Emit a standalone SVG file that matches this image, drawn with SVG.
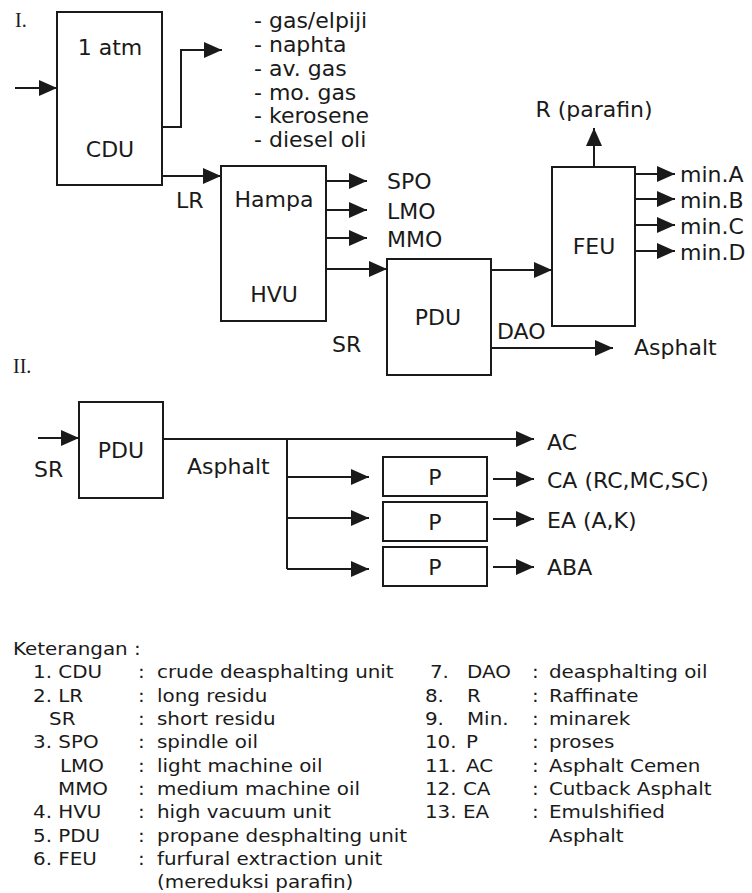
<svg xmlns="http://www.w3.org/2000/svg" width="752" height="893" viewBox="0 0 752 893">
<defs>
<style>
.box{fill:#fff;stroke:#1a1a1a;stroke-width:2}
.ln{fill:none;stroke:#1a1a1a;stroke-width:2}
.t{font-family:"DejaVu Sans",Verdana,sans-serif;font-size:22px;fill:#1a1a1a}
.c{text-anchor:middle}
.rom{font-family:"Liberation Serif","Times New Roman",serif;font-size:20px;fill:#1a1a1a}
.lg{font-family:"DejaVu Sans",Verdana,sans-serif;font-size:17px;fill:#1a1a1a}
</style>
<marker id="ah" markerUnits="userSpaceOnUse" markerWidth="18" markerHeight="16" refX="18" refY="8" orient="auto">
<path d="M0,0 L18,8 L0,16 Z" fill="#1a1a1a"/>
</marker>
</defs>
<rect width="752" height="893" fill="#fff"/>

<text class="rom" x="15" y="27">I.</text>
<text class="rom" x="13" y="373">II.</text>

<g id="connectors">
<path class="ln" d="M15,88 H57" marker-end="url(#ah)"/>
<path class="ln" d="M162,127 H181 V50 H222" marker-end="url(#ah)"/>
<path class="ln" d="M162,176 H221" marker-end="url(#ah)"/>
<path class="ln" d="M326,181 H367" marker-end="url(#ah)"/>
<path class="ln" d="M326,210 H367" marker-end="url(#ah)"/>
<path class="ln" d="M326,238 H367" marker-end="url(#ah)"/>
<path class="ln" d="M326,269 H387" marker-end="url(#ah)"/>
<path class="ln" d="M491,270 H552" marker-end="url(#ah)"/>
<path class="ln" d="M594,167 V128" marker-end="url(#ah)"/>
<path class="ln" d="M635,174 H675" marker-end="url(#ah)"/>
<path class="ln" d="M635,199 H675" marker-end="url(#ah)"/>
<path class="ln" d="M635,225 H675" marker-end="url(#ah)"/>
<path class="ln" d="M635,251 H675" marker-end="url(#ah)"/>
<path class="ln" d="M491,348 H613" marker-end="url(#ah)"/>
<path class="ln" d="M38,438 H79" marker-end="url(#ah)"/>
<path class="ln" d="M163,439 H534" marker-end="url(#ah)"/>
<path class="ln" d="M287,439 V569"/>
<path class="ln" d="M287,477 H369" marker-end="url(#ah)"/>
<path class="ln" d="M287,518 H369" marker-end="url(#ah)"/>
<path class="ln" d="M287,569 H369" marker-end="url(#ah)"/>
<path class="ln" d="M493,479 H534" marker-end="url(#ah)"/>
<path class="ln" d="M493,519 H534" marker-end="url(#ah)"/>
<path class="ln" d="M493,567 H534" marker-end="url(#ah)"/>
</g>

<g id="cdu">
<rect class="box" x="57" y="12" width="105" height="173"/>
<text class="t c" x="110" y="55">1 atm</text>
<text class="t c" x="110" y="157">CDU</text>
</g>
<g id="cdu-products">
<text class="t" x="254" y="28">- gas/elpiji</text>
<text class="t" x="254" y="52">- naphta</text>
<text class="t" x="254" y="76">- av. gas</text>
<text class="t" x="254" y="100">- mo. gas</text>
<text class="t" x="254" y="123">- kerosene</text>
<text class="t" x="254" y="147">- diesel oli</text>
</g>
<text class="t" x="176" y="208">LR</text>

<g id="hvu">
<rect class="box" x="221" y="166" width="105" height="155"/>
<text class="t c" x="274" y="207">Hampa</text>
<text class="t c" x="274" y="302">HVU</text>
</g>
<text class="t" x="387" y="189">SPO</text>
<text class="t" x="387" y="219">LMO</text>
<text class="t" x="387" y="247">MMO</text>
<text class="t" x="332" y="352">SR</text>

<g id="pdu1">
<rect class="box" x="387" y="259" width="104" height="116"/>
<text class="t c" x="438" y="325">PDU</text>
</g>
<text class="t" x="497" y="339">DAO</text>
<text class="t" x="634" y="355">Asphalt</text>

<g id="feu">
<rect class="box" x="552" y="167" width="83" height="159"/>
<text class="t c" x="594" y="254">FEU</text>
</g>
<text class="t c" x="594" y="117">R (parafin)</text>
<text class="t" x="680" y="182">min.A</text>
<text class="t" x="680" y="208">min.B</text>
<text class="t" x="680" y="234">min.C</text>
<text class="t" x="680" y="260">min.D</text>

<g id="pdu2">
<rect class="box" x="79" y="402" width="84" height="96"/>
<text class="t c" x="121" y="458">PDU</text>
</g>
<text class="t" x="34" y="477">SR</text>
<text class="t" x="187" y="474">Asphalt</text>
<text class="t" x="547" y="450">AC</text>

<g id="p1">
<rect class="box" x="383" y="457" width="104" height="39"/>
<text class="t c" x="435" y="485">P</text>
</g>
<g id="p2">
<rect class="box" x="383" y="502" width="104" height="39"/>
<text class="t c" x="435" y="530">P</text>
</g>
<g id="p3">
<rect class="box" x="383" y="547" width="104" height="39"/>
<text class="t c" x="435" y="575">P</text>
</g>
<text class="t" x="547" y="488">CA (RC,MC,SC)</text>
<text class="t" x="547" y="528">EA (A,K)</text>
<text class="t" x="547" y="575">ABA</text>

<g id="legend" transform="scale(1.17,1)">
<text class="lg" x="11.1" y="655">Keterangan :</text>
<text class="lg" x="28.2" y="678">1. CDU</text>
<text class="lg" x="28.2" y="702">2. LR</text>
<text class="lg" x="41.9" y="725">SR</text>
<text class="lg" x="28.2" y="748">3. SPO</text>
<text class="lg" x="51.3" y="772">LMO</text>
<text class="lg" x="49.6" y="795">MMO</text>
<text class="lg" x="28.2" y="818">4. HVU</text>
<text class="lg" x="28.2" y="842">5. PDU</text>
<text class="lg" x="28.2" y="865">6. FEU</text>
<text class="lg" x="117.9" y="678">:</text>
<text class="lg" x="117.9" y="702">:</text>
<text class="lg" x="117.9" y="725">:</text>
<text class="lg" x="117.9" y="748">:</text>
<text class="lg" x="117.9" y="772">:</text>
<text class="lg" x="117.9" y="795">:</text>
<text class="lg" x="117.9" y="818">:</text>
<text class="lg" x="117.9" y="842">:</text>
<text class="lg" x="117.9" y="865">:</text>
<text class="lg" x="134.2" y="678">crude deasphalting unit</text>
<text class="lg" x="134.2" y="702">long residu</text>
<text class="lg" x="134.2" y="725">short residu</text>
<text class="lg" x="134.2" y="748">spindle oil</text>
<text class="lg" x="134.2" y="772">light machine oil</text>
<text class="lg" x="134.2" y="795">medium machine oil</text>
<text class="lg" x="134.2" y="818">high vacuum unit</text>
<text class="lg" x="134.2" y="842">propane desphalting unit</text>
<text class="lg" x="134.2" y="865">furfural extraction unit</text>
<text class="lg" x="134.2" y="888">(mereduksi parafin)</text>

<text class="lg" x="367.5" y="678">7.</text>
<text class="lg" x="363.2" y="702">8.</text>
<text class="lg" x="363.2" y="725">9.</text>
<text class="lg" x="363.2" y="748">10.</text>
<text class="lg" x="363.2" y="772">11.</text>
<text class="lg" x="363.2" y="795">12.</text>
<text class="lg" x="363.2" y="818">13.</text>
<text class="lg" x="399.1" y="678">DAO</text>
<text class="lg" x="399.1" y="702">R</text>
<text class="lg" x="399.1" y="725">Min.</text>
<text class="lg" x="398.3" y="748">P</text>
<text class="lg" x="398.3" y="772">AC</text>
<text class="lg" x="395.7" y="795">CA</text>
<text class="lg" x="395.7" y="818">EA</text>
<text class="lg" x="454.7" y="678">:</text>
<text class="lg" x="454.7" y="702">:</text>
<text class="lg" x="454.7" y="725">:</text>
<text class="lg" x="454.7" y="748">:</text>
<text class="lg" x="454.7" y="772">:</text>
<text class="lg" x="454.7" y="795">:</text>
<text class="lg" x="454.7" y="818">:</text>
<text class="lg" x="469.2" y="678">deasphalting oil</text>
<text class="lg" x="469.2" y="702">Raffinate</text>
<text class="lg" x="469.2" y="725">minarek</text>
<text class="lg" x="469.2" y="748">proses</text>
<text class="lg" x="469.2" y="772">Asphalt Cemen</text>
<text class="lg" x="469.2" y="795">Cutback Asphalt</text>
<text class="lg" x="469.2" y="818">Emulshified</text>
<text class="lg" x="469.2" y="842">Asphalt</text>
</g>
</svg>
